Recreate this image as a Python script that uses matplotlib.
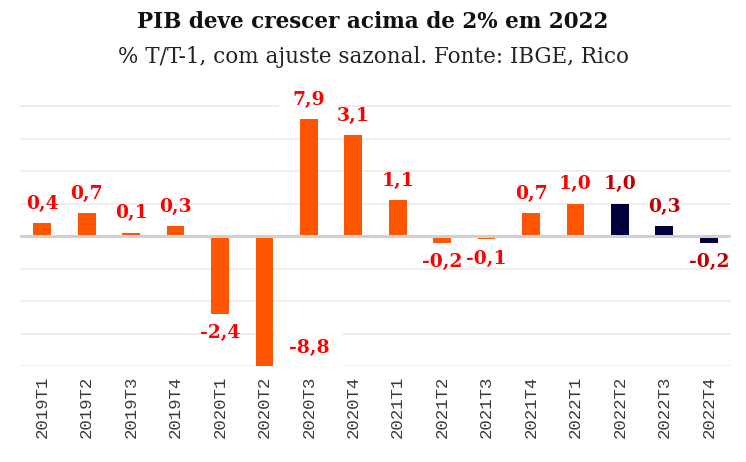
import numpy as np
import matplotlib.pyplot as plt

quarters = ["2019T1", "2019T2", "2019T3", "2019T4", "2020T1", "2020T2", "2020T3", "2020T4",
            "2021T1", "2021T2", "2021T3", "2021T4", "2022T1", "2022T2", "2022T3", "2022T4"]
growth = [0.4, 0.7, 0.1, 0.3, -2.4, -8.8, 7.9, 3.1, 1.1, -0.2, -0.1, 0.7, 1.0, 1.0, 0.3, -0.2]
forecast = [False] * 13 + [True] * 3

bar_orange = "#FF5500"
bar_navy = "#00003D"
label_red = "#FF0000"
label_dark = "#C00000"

y_lo, y_hi = -4, 3.6

fig = plt.figure(figsize=(7.46, 4.62), dpi=100)
ax = fig.add_axes([20 / 746, 1 - 366 / 462, 711 / 746, (366 - 119) / 462])

x = np.arange(len(quarters))
colors = [bar_navy if f else bar_orange for f in forecast]
ax.bar(x, growth, width=0.4, color=colors, zorder=3)

ax.set_xlim(-0.5, len(quarters) - 0.5)
ax.set_ylim(y_lo, y_hi)
ax.set_yticks(np.arange(-4, 4, 1))
ax.yaxis.grid(True, color="#EBEBEB", linewidth=1.2, zorder=0)
# top gridline sits above the clipped area
ax.axhline(4, color="#EBEBEB", linewidth=1.2, clip_on=False, zorder=0)
ax.axhline(0, color="#D0D0D0", linewidth=2.2, zorder=4)
ax.tick_params(axis="y", left=False, labelleft=False)
ax.tick_params(axis="x", length=0, pad=7)
for s in ax.spines.values():
    s.set_visible(False)

ax.set_xticks(x)
ax.set_xticklabels(quarters, rotation=90, fontsize=12.5, family="Liberation Mono", color="#3A3A3A")

# labels sit under the bars so the white boxes only hide gridlines
bbox = dict(boxstyle="square,pad=0.7", facecolor="white", edgecolor="none")
for xi, v, f in zip(x, growth, forecast):
    txt = f"{v:.1f}".replace(".", ",")
    col = label_dark if f else label_red
    if v < y_lo:
        # bar runs off the bottom: put label beside it
        ax.annotate(txt, (xi + 1, y_lo), xytext=(0, 13), textcoords="offset points",
                    ha="center", va="center", fontsize=13.5, fontweight="bold",
                    family="DejaVu Serif", color=col, bbox=bbox, zorder=2, annotation_clip=False)
        continue
    top = min(v, y_hi)
    off = 14 if v >= 0 else -14
    ax.annotate(txt, (xi, top), xytext=(0, off), textcoords="offset points",
                ha="center", va="center", fontsize=13.5, fontweight="bold",
                family="DejaVu Serif", color=col, bbox=bbox if v > y_hi else None,
                zorder=2, annotation_clip=False)

fig.text(0.5, 1 - 22 / 462, "PIB deve crescer acima de 2% em 2022", ha="center", va="center",
         fontsize=15.5, fontweight="bold", family="DejaVu Serif", color="#111111")
fig.text(0.5, 1 - 57 / 462, "% T/T-1, com ajuste sazonal. Fonte: IBGE, Rico", ha="center", va="center",
         fontsize=15.5, family="DejaVu Serif", color="#222222")

fig.savefig("out.png", dpi=100)
